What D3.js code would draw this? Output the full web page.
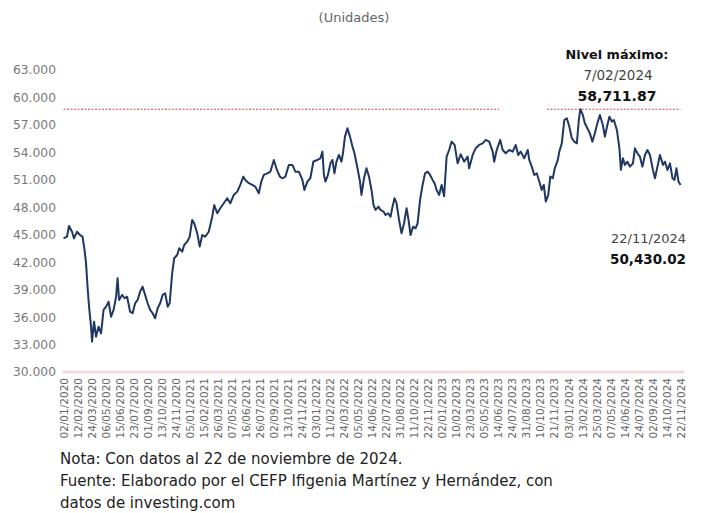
<!DOCTYPE html>
<html>
<head>
<meta charset="utf-8">
<script src="https://cdn.jsdelivr.net/npm/d3@7"></script>
<style>
  body { margin: 0; background: #fff; }
  svg { display: block; font-family: "DejaVu Sans", sans-serif; }
</style>
</head>
<body>
<script>
// tick labels on the x axis (one every 28 trading days)
const dateLabels = ["02/01/2020","12/02/2020","24/03/2020","06/05/2020","15/06/2020","23/07/2020","01/09/2020","13/10/2020","24/11/2020",
  "05/01/2021","15/02/2021","26/03/2021","07/05/2021","16/06/2021","26/07/2021","02/09/2021","13/10/2021","24/11/2021",
  "03/01/2022","11/02/2022","24/03/2022","05/05/2022","14/06/2022","22/07/2022","31/08/2022","11/10/2022","22/11/2022",
  "02/01/2023","10/02/2023","23/03/2023","05/05/2023","14/06/2023","24/07/2023","31/08/2023","10/10/2023","21/11/2023",
  "03/01/2024","13/02/2024","25/03/2024","07/05/2024","14/06/2024","24/07/2024","02/09/2024","14/10/2024","22/11/2024"]

const yTicks = [30000, 33000, 36000, 39000, 42000, 45000, 48000, 51000, 54000, 57000, 60000, 63000]

// trading day number (0 = 02/01/2020) and index value
const days = [0,7,11,17,21,27,33,38,42,45,48,51,55,57,61,65,70,75,80,85,90,95,100,105,108,111,117,122,127,133,138,143,148,153,158,163,168,173,178,183,188,193,198,203,208,212,217,221,227,231,237,241,247,252,
  257,261,267,272,277,283,290,297,301,307,313,320,327,333,340,347,353,359,363,370,377,383,390,395,400,407,413,420,425,432,437,443,450,457,463,470,477,481,487,493,
  499,507,513,517,520,523,528,533,537,541,545,550,555,558,562,567,572,577,581,587,592,595,600,605,610,615,619,623,629,633,639,643,648,653,657,661,665,670,675,680,685,689,693,698,703,707,712,717,722,727,732,737,741,745,750,755,760,765,770,775,781,787,
  793,800,807,810,817,823,830,837,843,850,857,860,865,872,877,883,890,897,903,908,913,920,927,930,935,940,945,950,955,959,963,968,972,977,981,987,990,995,1000,1005,1010,1015,1020,1025,1029,1032,1037,1041,1046,1051,1056,1061,1066,1071,1077,1081,1086,1090,1095,1099,1105,1110,1113,1117,1121,1126,1131,1137,1141,1146,1151,1156,1161,1166,1171,1177,1181,1186,1191,1197,1201,1206,1211,1216,1220,1224,1228,1232]
const values = [44610,44790,45960,45330,44600,45330,44970,44790,43330,41900,39320,37140,34950,33310,35500,33860,34950,34230,36780,37140,37680,36040,36780,38230,40240,37870,38420,38060,38230,36590,36420,37510,37870,38780,39320,38420,37510,36780,36420,35870,36960,37510,38420,38600,37140,37510,40790,42430,42790,43520,43150,43880,44240,44790,
  46610,46250,45160,43700,44970,44790,45330,46970,48250,47350,47890,48440,48990,48440,49350,49710,50440,51350,50990,50630,50440,50260,49530,50810,51530,51710,51890,53170,52260,51350,51170,51350,52630,52630,51890,51890,50990,49890,50810,51200,
  53000,53170,53350,54080,51530,50810,51530,52800,53170,51710,52980,53720,52980,53900,55720,56640,55720,54630,53900,52260,50810,49350,51170,52260,51350,49890,48250,47710,48070,47710,47530,47160,47350,46970,48070,48990,48440,46610,45160,46250,47890,46610,44970,45880,45700,46250,48800,50440,51710,51890,51530,50990,50630,49890,49350,50440,49200,53530,54260,55170,54810,52800,
  53800,52980,53530,52260,53720,54440,54810,54990,55360,55170,54080,52980,54260,55360,54260,53900,54260,54080,54810,53720,54080,53350,54260,53170,52440,51530,51710,50810,49890,50440,48620,49350,51350,51170,52260,53170,54080,54990,57540,57720,56810,55540,55170,54990,57540,58711.87,58090,57180,56630,56080,55170,56080,57180,58090,56990,55720,56990,57900,57360,57540,56450,54440,52080,53350,52630,52980,52440,52800,54440,53900,53530,52440,53720,54260,53720,52080,51170,52440,53720,52630,52980,52080,52800,51170,50990,52260,50810,50430.02]

const W = 703, H = 513

const svg = d3.select("body").append("svg")
  .attr("width", W)
  .attr("height", H)

const x = d3.scaleLinear()
  .domain([0, 1232])
  .range([63.5, 680.5])

const y = d3.scaleLinear()
  .domain([30000, 63000])
  .range([372, 70])

const fmt = d3.formatLocale({decimal: ",", thousands: ".", grouping: [3], currency: ["", ""]}).format(",")

// subtitle
svg.append("text")
  .attr("x", 354).attr("y", 22)
  .attr("text-anchor", "middle")
  .attr("font-size", 13)
  .attr("fill", "#666")
  .text("(Unidades)")

// y axis, labels only
const yAxis = svg.append("g")
  .attr("transform", "translate(56,0)")
  .call(d3.axisLeft(y).tickValues(yTicks).tickSize(0).tickPadding(0).tickFormat(fmt))
yAxis.select(".domain").remove()
yAxis.selectAll("text")
  .attr("font-size", 12.3)
  .attr("font-family", "'DejaVu Sans', sans-serif")
  .attr("fill", "#777")

// x axis
const xAxis = svg.append("g")
  .attr("transform", "translate(0,372)")
  .call(d3.axisBottom(x)
    .tickValues(d3.range(dateLabels.length).map(i => i * 28))
    .tickSize(0)
    .tickFormat((d, i) => dateLabels[i]))
xAxis.select(".domain")
  .attr("d", "M" + (x(0) - 1) + ",0H" + (x(1232) + 4))
  .attr("stroke", "#f3d9dd")
  .attr("stroke-width", 3)
xAxis.selectAll("text")
  .attr("transform", "rotate(-90)")
  .attr("text-anchor", "end")
  .attr("x", -6)
  .attr("y", 0)
  .attr("dy", "0.35em")
  .attr("font-size", 10.5)
  .attr("font-family", "'DejaVu Sans', sans-serif")
  .attr("fill", "#666")

// max level reference line (broken where the label sits)
const maxVal = 58711.87
const refSegments = [[0, 870], [965, 1232]]
svg.selectAll(".ref")
  .data(refSegments)
  .enter()
  .append("line")
  .attr("class", "ref")
  .attr("x1", d => x(d[0]))
  .attr("x2", d => x(d[1]))
  .attr("y1", y(maxVal))
  .attr("y2", y(maxVal))
  .attr("stroke", "#d0424f")
  .attr("stroke-width", 1)
  .attr("stroke-dasharray", "2,1.5")

// index line
const line = d3.line()
  .x((d, i) => x(days[i]))
  .y(d => y(d))

svg.append("path")
  .datum(values)
  .attr("d", line)
  .attr("fill", "none")
  .attr("stroke", "#1f3763")
  .attr("stroke-width", 2)
  .attr("stroke-linejoin", "round")

// annotations
const ann = svg.append("g").attr("text-anchor", "middle").attr("fill", "#111")
ann.append("text").attr("x", 617).attr("y", 59).attr("font-size", 12.8).attr("font-weight", "bold").text("Nivel máximo:")
ann.append("text").attr("x", 618).attr("y", 80).attr("font-size", 13.5).attr("fill", "#444").text("7/02/2024")
ann.append("text").attr("x", 617).attr("y", 101).attr("font-size", 14).attr("font-weight", "bold").text(d3.format(",.2f")(maxVal))

const endAnn = svg.append("g").attr("text-anchor", "end")
endAnn.append("text").attr("x", 686).attr("y", 243).attr("font-size", 13).attr("fill", "#444").text("22/11/2024")
endAnn.append("text").attr("x", 686).attr("y", 264).attr("font-size", 13.5).attr("font-weight", "bold").attr("fill", "#111")
  .text(d3.format(",.2f")(values[values.length - 1]))

// notes
const notes = ["Nota: Con datos al 22 de noviembre de 2024.",
  "Fuente: Elaborado por el CEFP Ifigenia Martínez y Hernández, con",
  "datos de investing.com"]
svg.selectAll(".note")
  .data(notes)
  .enter()
  .append("text")
  .attr("class", "note")
  .attr("x", 60)
  .attr("y", (d, i) => 464 + i * 22)
  .attr("font-size", 15)
  .attr("fill", "#222")
  .text(d => d)
</script>
</body>
</html>
